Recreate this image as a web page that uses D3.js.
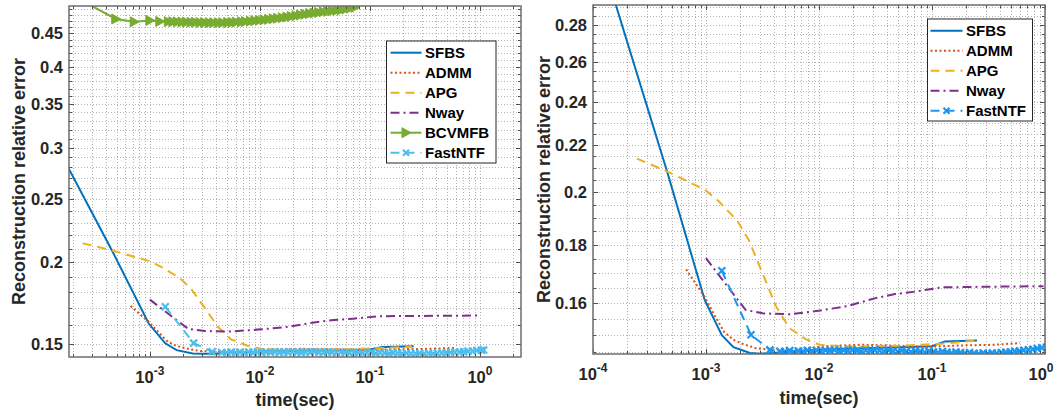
<!DOCTYPE html>
<html>
<head>
<meta charset="utf-8">
<script src="https://cdn.jsdelivr.net/npm/d3@7"></script>
<style>
body { margin: 0; background: #fff; }
svg { display: block; font-family: "Liberation Sans", Arial, Helvetica, sans-serif; font-weight: bold; }
</style>
</head>
<body>
<svg width="1056" height="416"></svg>
<script>
// ---- data (time in sec, relative error) ----
var sfbsTime = [1.2e-4, 1.6e-4, 4.56e-4, 9.75e-4, 1.38e-3, 1.75e-3, 2.45e-3, 3.0e-3, 3.6e-3, 5.9e-3, 0.01, 0.025, 0.05, 0.1, 0.13, 0.25];
var sfbsErr  = [0.32, 0.291, 0.208, 0.161, 0.1501, 0.1465, 0.1448, 0.1446, 0.1447, 0.1452, 0.1458, 0.1462, 0.1465, 0.1468, 0.1482, 0.1485];

var admmTime = [6.67e-4, 9.75e-4, 1.2e-3, 1.45e-3, 1.75e-3, 2.1e-3, 2.75e-3, 3.5e-3, 5.9e-3, 0.0117, 0.0231, 0.0455, 0.0897, 0.177, 0.35, 0.6];
var admmErr  = [0.1713, 0.162, 0.156, 0.151, 0.1487, 0.1475, 0.1462, 0.1458, 0.1459, 0.1468, 0.1472, 0.147, 0.1466, 0.147, 0.1472, 0.1477];

var apgTime = [2.45e-4, 4.55e-4, 9.8e-4, 1.29e-3, 1.88e-3, 2.39e-3, 3.16e-3, 4.17e-3, 5.47e-3, 7.7e-3, 0.0102, 0.0178, 0.05, 0.12, 0.24];
var apgErr  = [0.214, 0.2085, 0.201, 0.1965, 0.189, 0.1817, 0.170, 0.159, 0.1522, 0.1488, 0.1472, 0.1467, 0.1469, 0.1475, 0.1484];

var nwayTime = [1.0e-3, 1.48e-3, 2.24e-3, 3.16e-3, 5.5e-3, 0.0102, 0.0178, 0.031, 0.047, 0.07, 0.122, 0.28, 0.97];
var nwayErr  = [0.1752, 0.1665, 0.1579, 0.1568, 0.1565, 0.1577, 0.1591, 0.1616, 0.163, 0.1638, 0.1652, 0.1654, 0.1656];

var bcvTime = [2.7e-4, 4.9e-4, 7.2e-4, 1.0e-3, 1.23e-3, 1.47e-3, 1.62e-3, 1.78e-3, 1.96e-3, 2.15e-3, 2.37e-3, 2.6e-3, 2.86e-3,
  3.15e-3, 3.47e-3, 3.81e-3, 4.2e-3, 4.6e-3, 5.1e-3, 5.6e-3, 6.1e-3, 6.8e-3, 7.4e-3, 8.2e-3, 9.0e-3, 9.9e-3, 0.0109, 0.012,
  0.0132, 0.0145, 0.016, 0.0176, 0.0193, 0.0213, 0.0234, 0.0257, 0.0283, 0.0311, 0.0342, 0.0376, 0.0414, 0.0455, 0.05,
  0.055, 0.0605, 0.0666, 0.0732];
var bcvErr = [0.50, 0.4734, 0.4687, 0.471, 0.4694, 0.469, 0.4688, 0.4686, 0.4684, 0.4682, 0.468, 0.4678, 0.4676,
  0.4674, 0.4673, 0.4672, 0.4672, 0.4673, 0.4675, 0.4678, 0.4682, 0.4687, 0.4692, 0.4698, 0.4705, 0.4712, 0.472, 0.4728,
  0.4737, 0.4746, 0.4756, 0.4767, 0.4778, 0.479, 0.4802, 0.4814, 0.4826, 0.4836, 0.4846, 0.4856, 0.4865, 0.4873, 0.488,
  0.489, 0.4905, 0.492, 0.4935];

var fastTime = [1.38e-3, 2.5e-3, 3.68e-3, 4.5e-3, 5e-3, 5.5e-3, 6e-3, 6.6e-3, 7.2e-3, 7.9e-3, 8.7e-3, 9.5e-3,
  0.0104, 0.0114, 0.0125, 0.0137, 0.015, 0.0165, 0.018, 0.0198, 0.0217, 0.0238, 0.026, 0.0285, 0.0313, 0.0343, 0.0376,
  0.0412, 0.0452, 0.0495, 0.0543, 0.0595, 0.0652, 0.0715, 0.0784, 0.086, 0.094, 0.103, 0.113, 0.124, 0.136, 0.149, 0.163,
  0.179, 0.196, 0.215, 0.236, 0.259, 0.284, 0.311, 0.341, 0.374, 0.41, 0.45, 0.493, 0.54, 0.592, 0.649, 0.712, 0.78,
  0.855, 0.937, 1.03, 1.08];
var fastErr = [0.1708, 0.1502, 0.1457, 0.1453, 0.1452, 0.1455, 0.1451, 0.1454, 0.1452, 0.1456, 0.1453, 0.1455,
  0.1452, 0.1456, 0.1454, 0.1457, 0.1453, 0.1456, 0.1454, 0.1457, 0.1455, 0.1453, 0.1456, 0.1454, 0.1457, 0.1455, 0.1453,
  0.1456, 0.1454, 0.1452, 0.1455, 0.1453, 0.1451, 0.1454, 0.1452, 0.145, 0.1453, 0.1451, 0.1449, 0.1452, 0.145, 0.1448, 0.1451,
  0.1449, 0.1447, 0.1449, 0.1447, 0.1446, 0.1448, 0.1446, 0.1448, 0.1447, 0.1449, 0.145, 0.1451, 0.1453, 0.1454, 0.1456, 0.1457, 0.1459,
  0.1461, 0.1463, 0.1465, 0.1466];

// ticks and legends
var xTicksLeft = [1e-3, 1e-2, 1e-1, 1];
var xExpLeft = ['-3', '-2', '-1', '0'];
var xTicksRight = [1e-4, 1e-3, 1e-2, 1e-1, 1];
var xExpRight = ['-4', '-3', '-2', '-1', '0'];
var yTicksLeft = [0.15, 0.2, 0.25, 0.3, 0.35, 0.4, 0.45];
var yLabelsLeft = ['0.15', '0.2', '0.25', '0.3', '0.35', '0.4', '0.45'];
var yTicksRight = [0.16, 0.18, 0.2, 0.22, 0.24, 0.26, 0.28];
var yLabelsRight = ['0.16', '0.18', '0.2', '0.22', '0.24', '0.26', '0.28'];
var namesLeft = ['SFBS', 'ADMM', 'APG', 'Nway', 'BCVMFB', 'FastNTF'];
var namesRight = ['SFBS', 'ADMM', 'APG', 'Nway', 'FastNTF'];

var seriesData = {
	SFBS: [sfbsTime, sfbsErr],
	ADMM: [admmTime, admmErr],
	APG: [apgTime, apgErr],
	Nway: [nwayTime, nwayErr],
	BCVMFB: [bcvTime, bcvErr],
	FastNTF: [fastTime, fastErr]
};

var styles = {
	SFBS: { color: '#0072BD', dash: null },
	ADMM: { color: '#D95319', dash: '2,2.5' },
	APG: { color: '#EDB120', dash: '9,6' },
	Nway: { color: '#7E2F8E', dash: '9,4,2,4' },
	BCVMFB: { color: '#77AC30', dash: null, marker: 'tri' },
	FastNTF: { color: '#4DBEEE', dash: '9,6', marker: 'x' }
};

var svg = d3.select('svg');

var panels = [
	{ id: 'l', left: 69, right: 521, top: 6, bottom: 357, xDomain: [1.84e-4, 2.36], yDomain: [0.143, 0.4957],
	  xTicks: xTicksLeft, xExp: xExpLeft, yTicks: yTicksLeft, yLabels: yLabelsLeft,
	  yMinor: d3.range(0.15, 0.4951, 0.01), names: namesLeft, fastColor: '#4DBEEE',
	  legend: { x: 386.5, y: 41, w: 109.5, h: 122, lx0: 390.5, lx1: 421.5, tx: 425 },
	  ylabX: 25, xlabY: 406 },
	{ id: 'r', left: 593, right: 1045, top: 5, bottom: 354, xDomain: [1e-4, 1], yDomain: [0.1445, 0.2914],
	  xTicks: xTicksRight, xExp: xExpRight, yTicks: yTicksRight, yLabels: yLabelsRight,
	  yMinor: d3.range(0.145, 0.2901, 0.005), names: namesRight, fastColor: '#1C97EF',
	  legend: { x: 927.5, y: 19, w: 105, h: 102, lx0: 930.5, lx1: 962.5, tx: 966 },
	  ylabX: 550, xlabY: 404 }
];

function crisp(v) { return Math.round(v) + 0.5; }

function xMarker(g, cx, cy, s, color) {
	g.append('path')
		.attr('d', 'M' + (cx - s) + ',' + (cy - s) + 'L' + (cx + s) + ',' + (cy + s) +
			'M' + (cx - s) + ',' + (cy + s) + 'L' + (cx + s) + ',' + (cy - s))
		.attr('stroke', color).attr('stroke-width', 2.2).attr('fill', 'none');
}
function triMarker(g, cx, cy, s, color) {
	g.append('path')
		.attr('d', 'M' + (cx - s * 0.8) + ',' + (cy - s) + 'L' + (cx + s) + ',' + cy + 'L' + (cx - s * 0.8) + ',' + (cy + s) + 'Z')
		.attr('fill', color).attr('stroke', color).attr('stroke-width', 1);
}

panels.forEach(function(p) {
	var g = svg.append('g');
	var x = d3.scaleLog().domain(p.xDomain).range([p.left, p.right]);
	var y = d3.scaleLog().domain(p.yDomain).range([p.bottom, p.top]);

	// all decade and sub-decade positions inside the x range
	var xMinor = [];
	for (var k = -5; k <= 1; k++) {
		for (var m = 1; m < 10; m++) {
			var v = m * Math.pow(10, k);
			if (v >= p.xDomain[0] && v <= p.xDomain[1] * 1.0001) xMinor.push(v);
		}
	}

	// grid (dotted)
	g.selectAll('.gx').data(xMinor).enter().append('line')
		.attr('x1', function(d) { return crisp(x(d)); })
		.attr('x2', function(d) { return crisp(x(d)); })
		.attr('y1', p.top).attr('y2', p.bottom)
		.attr('stroke', '#b4b4b4').attr('stroke-width', 1).attr('stroke-dasharray', '1,2');
	g.selectAll('.gy').data(p.yMinor).enter().append('line')
		.attr('y1', function(d) { return crisp(y(d)); })
		.attr('y2', function(d) { return crisp(y(d)); })
		.attr('x1', p.left).attr('x2', p.right)
		.attr('stroke', '#b4b4b4').attr('stroke-width', 1).attr('stroke-dasharray', '1,2');

	// clip
	svg.append('clipPath').attr('id', 'clip' + p.id)
		.append('rect').attr('x', p.left).attr('y', p.top)
		.attr('width', p.right - p.left).attr('height', p.bottom - p.top);
	var plot = g.append('g').attr('clip-path', 'url(#clip' + p.id + ')');

	var line = d3.line()
		.x(function(d) { return x(d[0]); })
		.y(function(d) { return y(d[1]); });

	p.names.forEach(function(name) {
		var s = styles[name];
		var col = name === 'FastNTF' ? p.fastColor : s.color;
		var arr = d3.zip(seriesData[name][0], seriesData[name][1]);
		plot.append('path')
			.datum(arr)
			.attr('d', line)
			.attr('fill', 'none')
			.attr('stroke', col)
			.attr('stroke-width', 2)
			.attr('stroke-dasharray', s.dash);
		if (s.marker === 'tri') {
			arr.slice(1).forEach(function(d) { triMarker(plot, x(d[0]), y(d[1]), 5, col); });
		} else if (s.marker === 'x') {
			arr.forEach(function(d) { xMarker(plot, x(d[0]), y(d[1]), 3.5, col); });
		}
	});

	// ticks (inward, on all four sides)
	var tickCol = '#4d4d4d';
	xMinor.forEach(function(v) {
		var major = p.xTicks.indexOf(v) >= 0;
		var len = major ? 5 : 3;
		var xx = crisp(x(v));
		g.append('line').attr('x1', xx).attr('x2', xx).attr('y1', p.bottom).attr('y2', p.bottom - len)
			.attr('stroke', tickCol).attr('stroke-width', 1);
		g.append('line').attr('x1', xx).attr('x2', xx).attr('y1', p.top).attr('y2', p.top + len)
			.attr('stroke', tickCol).attr('stroke-width', 1);
	});
	p.yMinor.forEach(function(v) {
		var major = p.yTicks.some(function(t) { return Math.abs(t - v) < 1e-9; });
		var len = major ? 5 : 3;
		var yy = crisp(y(v));
		g.append('line').attr('y1', yy).attr('y2', yy).attr('x1', p.left).attr('x2', p.left + len)
			.attr('stroke', tickCol).attr('stroke-width', 1);
		g.append('line').attr('y1', yy).attr('y2', yy).attr('x1', p.right).attr('x2', p.right - len)
			.attr('stroke', tickCol).attr('stroke-width', 1);
	});

	// box
	g.append('rect').attr('x', p.left).attr('y', p.top)
		.attr('width', p.right - p.left).attr('height', p.bottom - p.top)
		.attr('fill', 'none').attr('stroke', '#6e6e6e').attr('stroke-width', 1.5);

	// y tick labels
	p.yTicks.forEach(function(v, i) {
		g.append('text').attr('x', p.left - 6).attr('y', y(v) + 6)
			.attr('text-anchor', 'end').attr('font-size', 16.5).attr('fill', '#262626')
			.text(p.yLabels[i]);
	});
	// x tick labels 10^k (kept inside the page at the right edge)
	p.xTicks.forEach(function(v, i) {
		var t = g.append('text').attr('x', Math.min(x(v), 1041)).attr('y', p.bottom + 26)
			.attr('text-anchor', 'middle').attr('font-size', 16.5).attr('fill', '#262626');
		t.append('tspan').text('10');
		t.append('tspan').attr('dy', -8).attr('font-size', 12).text(p.xExp[i]);
	});

	// axis titles
	g.append('text').attr('x', (p.left + p.right) / 2).attr('y', p.xlabY)
		.attr('text-anchor', 'middle').attr('font-size', 18).attr('fill', '#262626')
		.text('time(sec)');
	g.append('text')
		.attr('transform', 'translate(' + p.ylabX + ',' + ((p.top + p.bottom) / 2) + ') rotate(-90)')
		.attr('text-anchor', 'middle').attr('font-size', 18).attr('fill', '#262626')
		.text('Reconstruction relative error');

	// legend
	var L = p.legend;
	var lg = g.append('g');
	lg.append('rect').attr('x', L.x).attr('y', L.y).attr('width', L.w).attr('height', L.h)
		.attr('fill', '#fff').attr('stroke', '#262626').attr('stroke-width', 1);
	p.names.forEach(function(name, i) {
		var s = styles[name];
		var col = name === 'FastNTF' ? p.fastColor : s.color;
		var cy = L.y + 11.7 + i * 20;
		lg.append('line').attr('x1', L.lx0).attr('x2', L.lx1).attr('y1', cy).attr('y2', cy)
			.attr('stroke', col).attr('stroke-width', 2).attr('stroke-dasharray', s.dash);
		var mx = (L.lx0 + L.lx1) / 2;
		if (s.marker === 'tri') triMarker(lg, mx, cy, 5, col);
		if (s.marker === 'x') xMarker(lg, mx, cy, 3, col);
		lg.append('text').attr('x', L.tx).attr('y', cy + 5.5)
			.attr('font-size', 15).attr('fill', '#000').text(name);
	});
});
</script>
</body>
</html>
